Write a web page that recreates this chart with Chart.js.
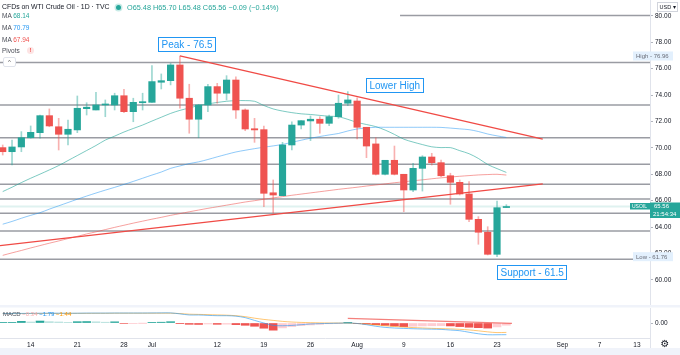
<!DOCTYPE html>
<html><head><meta charset="utf-8">
<script src="https://cdn.jsdelivr.net/npm/chart.js@4.4.0/dist/chart.umd.min.js"></script>
<style>
html,body{margin:0;padding:0;background:#fff;overflow:hidden}
#wrap{position:relative;width:680px;height:355px;font-family:'Liberation Sans',Arial,sans-serif}
canvas{position:absolute;left:0}
#c1{top:0}
#c2{top:305px}
.t{position:absolute;white-space:nowrap;line-height:1}
</style></head><body>
<div id="wrap">
<canvas id="c1" width="680" height="305"></canvas>
<canvas id="c2" width="680" height="50"></canvas>
<div class="t" style="left:2px;top:3.5px;font-size:6.9px;color:#131722">CFDs on WTI Crude Oil · 1D · TVC</div>
<div style="position:absolute;left:115.5px;top:4.5px;width:5px;height:5px;border-radius:50%;background:#26a69a;box-shadow:0 0 0 1.5px #c8ebe7"></div>
<div class="t" style="left:127px;top:3.5px;font-size:7.3px;color:#26a69a">O65.48 H65.70 L65.48 C65.56 −0.09 (−0.14%)</div>
<div class="t" style="left:2px;top:12.5px;font-size:6.5px;color:#4a4d57">MA <span style="color:#26a69a">68.14</span></div>
<div class="t" style="left:2px;top:25px;font-size:6.5px;color:#4a4d57">MA <span style="color:#2196f3">70.79</span></div>
<div class="t" style="left:2px;top:36.5px;font-size:6.5px;color:#4a4d57">MA <span style="color:#ef5350">67.94</span></div>
<div class="t" style="left:2px;top:47.5px;font-size:6.5px;color:#4a4d57">Pivots</div>
<div style="position:absolute;left:27px;top:46.5px;width:7px;height:7px;border-radius:50%;background:#fde4e4;color:#ef5350;font-size:6px;line-height:7px;text-align:center;font-weight:bold">!</div>
<div style="position:absolute;left:3px;top:57px;width:11px;height:8px;border:1px solid #e0e3eb;border-radius:2px;font-size:6px;line-height:8px;text-align:center;color:#555;background:#fff">^</div>
<div class="t" style="left:3px;top:311px;font-size:6px;color:#4a4d57">MACD <span style="color:#f7a9a8">−0.34</span> <span style="color:#2196f3">−1.79</span> <span style="color:#ff9800">−1.44</span></div>
</div>
<script>
// ---- data ----
const dates = ['Jun 9','Jun 10','Jun 11','Jun 14','Jun 15','Jun 16','Jun 17','Jun 18','Jun 21','Jun 22','Jun 23','Jun 24','Jun 25','Jun 28','Jun 29','Jun 30','Jul 1','Jul 2','Jul 5','Jul 6','Jul 7','Jul 8','Jul 9','Jul 12','Jul 13','Jul 14','Jul 15','Jul 16','Jul 19','Jul 20','Jul 21','Jul 22','Jul 23','Jul 26','Jul 27','Jul 28','Jul 29','Jul 30','Aug 2','Aug 3','Aug 4','Aug 5','Aug 6','Aug 9','Aug 10','Aug 11','Aug 12','Aug 13','Aug 16','Aug 17','Aug 18','Aug 19','Aug 20','Aug 23','Aug 24'];
const openP  = [70.02,69.71,70.07,70.77,71.15,72.44,71.60,71.03,71.36,72.97,72.87,73.25,73.25,73.95,72.74,73.42,73.45,74.97,75.09,76.28,73.76,72.17,73.25,74.64,74.14,75.14,72.87,71.45,71.38,66.60,66.38,70.22,71.73,72.04,72.17,71.86,72.36,73.38,73.55,71.56,70.30,68.00,69.06,68.00,66.81,68.45,69.31,68.88,67.89,67.39,66.51,64.59,63.61,61.94,65.48];
const highP  = [70.22,70.60,71.23,71.66,72.49,72.95,72.24,72.11,73.93,73.42,74.21,73.63,74.14,74.44,73.76,74.14,76.23,75.60,76.40,76.96,74.82,73.30,74.82,74.89,75.47,75.39,72.95,72.24,71.66,67.57,70.42,71.98,72.06,72.42,72.36,72.49,74.00,74.26,73.80,71.56,70.77,69.06,70.14,68.00,68.83,69.41,69.59,69.08,68.08,67.57,67.44,64.79,64.03,65.98,65.70];
const lowP   = [69.46,68.70,69.71,70.73,70.73,71.60,69.84,70.22,71.15,72.49,72.87,72.36,72.87,72.67,71.98,72.87,73.45,74.46,74.77,73.00,71.11,70.77,72.74,73.38,73.63,72.24,71.30,70.42,65.55,65.05,66.38,69.84,71.43,70.55,71.11,71.68,72.24,73.20,70.67,69.26,67.95,67.95,67.95,65.17,66.68,66.73,68.70,67.82,65.73,66.43,64.41,62.70,61.89,61.76,65.48];
const closeP = [69.71,70.07,70.77,71.18,72.44,71.66,71.03,71.41,73.00,73.08,73.25,73.30,73.95,72.74,73.45,73.50,75.02,75.09,76.28,73.76,72.17,73.25,74.64,74.14,75.14,72.87,71.43,71.36,66.56,66.43,70.22,71.73,72.06,72.17,71.86,72.36,73.38,73.63,71.56,70.14,68.00,69.06,68.00,66.81,68.45,69.31,68.88,67.89,67.39,66.51,64.59,63.61,61.94,65.47,65.56];
const maFast = [66.69,67.02,67.37,67.70,68.01,68.33,68.66,69.04,69.42,69.80,70.18,70.59,70.89,71.20,71.47,71.73,72.03,72.32,72.61,72.84,73.02,73.21,73.33,73.44,73.53,73.58,73.58,73.53,73.21,72.95,72.79,72.67,72.58,72.53,72.46,72.40,72.36,72.16,71.93,71.77,71.61,71.35,71.02,70.66,70.44,70.25,70.08,70.02,70.02,69.79,69.56,69.20,68.74,68.43,68.14];
const maMid  = [64.22,64.43,64.67,64.89,65.09,65.36,65.61,65.86,66.11,66.35,66.58,66.80,67.01,67.23,67.46,67.70,67.94,68.17,68.45,68.63,68.81,68.94,69.12,69.32,69.51,69.69,69.82,69.94,70.05,70.15,70.26,70.42,70.58,70.73,70.86,70.98,71.09,71.28,71.43,71.51,71.56,71.56,71.56,71.56,71.56,71.56,71.56,71.55,71.50,71.44,71.38,71.24,71.05,70.91,70.79];
const maSlow = [61.86,62.05,62.23,62.42,62.60,62.78,62.95,63.13,63.30,63.48,63.64,63.81,63.98,64.14,64.30,64.45,64.60,64.74,64.89,65.02,65.16,65.29,65.42,65.54,65.66,65.78,65.90,66.00,66.11,66.21,66.31,66.41,66.50,66.59,66.68,66.77,66.86,66.94,67.02,67.11,67.19,67.27,67.36,67.43,67.51,67.58,67.66,67.73,67.79,67.85,67.90,67.95,67.98,68.00,67.94];
const pivotLevels = [76.47,73.25,70.77,68.76,67.24,66.13,65.05,63.70,61.57];
const upperLevel = {value:80.02, from:42.6};
const lastPrice = 65.56;
const resistLine = [[19.0,76.96],[57.9,70.67]];
const supportLine = [[-0.29,62.59],[57.9,67.27]];
const macdLine   = [1.45,1.46,1.47,1.48,1.50,1.50,1.50,1.50,1.50,1.52,1.52,1.52,1.53,1.53,1.53,1.53,1.54,1.55,1.55,1.40,1.23,1.23,1.17,1.12,1.12,1.05,0.82,0.40,0.00,-0.37,-0.42,-0.37,-0.26,-0.15,-0.10,-0.06,-0.03,0.00,-0.07,-0.26,-0.50,-0.67,-0.77,-0.83,-0.88,-0.92,-0.95,-0.98,-1.08,-1.18,-1.42,-1.65,-1.80,-1.80,-1.79];
const signalLine = [1.45,1.45,1.45,1.46,1.46,1.47,1.47,1.47,1.48,1.48,1.49,1.49,1.50,1.50,1.50,1.50,1.50,1.50,1.50,1.45,1.35,1.32,1.28,1.24,1.20,1.12,0.97,0.74,0.55,0.40,0.25,0.15,0.09,0.05,0.02,0.00,0.00,-0.02,-0.08,-0.17,-0.30,-0.42,-0.53,-0.63,-0.70,-0.76,-0.82,-0.86,-0.90,-0.97,-1.06,-1.20,-1.36,-1.47,-1.44];
const histo = [0.10,0.10,0.25,0.15,0.30,0.20,0.15,0.10,0.20,0.22,0.18,0.12,0.18,-0.08,-0.05,-0.02,0.05,0.12,0.20,-0.05,-0.20,-0.22,-0.15,-0.20,-0.18,-0.25,-0.35,-0.50,-0.80,-1.10,-0.75,-0.55,-0.40,-0.30,-0.20,-0.12,-0.05,0.02,-0.08,-0.15,-0.25,-0.35,-0.45,-0.55,-0.50,-0.45,-0.42,-0.40,-0.45,-0.55,-0.65,-0.72,-0.78,-0.60,-0.34];
const macdTrend = [[37,0.70],[54.6,-0.05]];
const tickIdx = [3,8,13,16,23,28,33,38,43,48,53,60,64,68];
const tickLabels = ['14','21','28','Jul','12','19','26','Aug','9','16','23','Sep','7','13'];
const priceTicks = [60,62,64,66,68,70,72,74,76,78,80];
const notes = [
  {text:'Peak - 76.5', i:16.6, v:78.40},
  {text:'Lower High', i:38.9, v:75.30},
  {text:'Support - 61.5', i:53.0, v:61.13}
];

// ---- setup ----
const X_MIN = -0.29, X_MAX = 69.4;
const UP = '#26a69a', DOWN = '#ef5350';
Chart.defaults.font.family = "'Liberation Sans', Arial, sans-serif";
const idx = openP.map((_, i) => i);
const pts = arr => arr.map((v, i) => ({x: i, y: v}));
const isUp = i => closeP[i] >= openP[i];
const noPadY = s => { s.width = 30; s.paddingTop = 0; s.paddingBottom = 0; };

const datasets = [];
pivotLevels.forEach(lv => datasets.push({
  type:'line', data:[{x:X_MIN,y:lv},{x:X_MAX,y:lv}], borderColor:'#9a9ca3', borderWidth:1.5,
  pointRadius:0, order:20
}));
datasets.push({type:'line', data:[{x:upperLevel.from,y:upperLevel.value},{x:X_MAX,y:upperLevel.value}], borderColor:'#9a9ca3', borderWidth:1.5, pointRadius:0, order:20});
datasets.push({type:'line', data:[{x:X_MIN,y:lastPrice},{x:X_MAX,y:lastPrice}], borderColor:'rgba(38,166,154,0.15)', borderWidth:2, pointRadius:0, order:19});
datasets.push({type:'line', data:pts(maSlow), borderColor:'rgba(239,83,80,0.55)', borderWidth:1, pointRadius:0, tension:0.3, order:8});
datasets.push({type:'line', data:pts(maMid), borderColor:'rgba(33,150,243,0.5)', borderWidth:1, pointRadius:0, tension:0.3, order:8});
datasets.push({type:'line', data:pts(maFast), borderColor:'rgba(38,166,154,0.6)', borderWidth:1, pointRadius:0, tension:0.3, order:8});
datasets.push({type:'bar', data: idx.map(i => ({x:i, y:[lowP[i], highP[i]]})),
  backgroundColor: idx.map(i => isUp(i) ? 'rgba(38,166,154,0.45)' : 'rgba(239,83,80,0.45)'),
  barThickness:1, grouped:false, borderWidth:0, order:5});
datasets.push({type:'bar', data: idx.map(i => ({x:i, y:[Math.min(openP[i],closeP[i]), Math.max(openP[i],closeP[i])]})),
  backgroundColor: idx.map(i => isUp(i) ? UP : DOWN),
  barThickness:6.5, grouped:false, borderWidth:0, minBarLength:1, order:4});
[resistLine, supportLine].forEach(l => datasets.push({
  type:'line', data:l.map(p => ({x:p[0], y:p[1]})), borderColor:'#f04a45', borderWidth:1.3, pointRadius:0, order:1
}));

function tag(ctx, x, y, w, h, bg) { ctx.fillStyle = bg; ctx.fillRect(x, y, w, h); }

const pricePlugin = {
  id:'priceTags',
  afterDraw(chart) {
    const {ctx, scales:{x, y}} = chart;
    ctx.save();
    notes.forEach(n => {
      const px = Math.round(x.getPixelForValue(n.i)), py = Math.round(y.getPixelForValue(n.v));
      ctx.font = "10px 'Liberation Sans', Arial";
      const w = Math.round(ctx.measureText(n.text).width) + 6;
      ctx.fillStyle = '#fff'; ctx.fillRect(px, py, w, 14);
      ctx.strokeStyle = '#2196f3'; ctx.lineWidth = 1; ctx.strokeRect(px + 0.5, py + 0.5, w, 14);
      ctx.fillStyle = '#2196f3'; ctx.textBaseline = 'middle'; ctx.textAlign = 'left';
      ctx.fillText(n.text, px + 3.5, py + 7.8);
    });
    const hi = Math.max(...highP), lo = Math.min(...lowP);
    ctx.font = "6px 'Liberation Sans', Arial";
    [['High', hi], ['Low', lo]].forEach(([lab, v]) => {
      const py = y.getPixelForValue(v);
      tag(ctx, 633, py - 4.5, 40, 9, '#e3f0fd');
      ctx.fillStyle = '#6a6d78'; ctx.textBaseline = 'middle';
      ctx.fillText(lab + ' - ' + v.toFixed(2), 636, py + 0.3);
    });
    const pp = y.getPixelForValue(lastPrice);
    tag(ctx, 630, pp - 3.5, 20, 6.5, UP);
    tag(ctx, 650, pp - 4, 30, 15.5, UP);
    ctx.fillStyle = '#fff'; ctx.font = "5px 'Liberation Sans', Arial";
    ctx.fillText('USOIL', 632, pp);
    ctx.font = "6px 'Liberation Sans', Arial";
    ctx.fillText(lastPrice.toFixed(2), 654, pp);
    ctx.fillText('21:54:34', 653, pp + 7.5);
    ctx.strokeStyle = '#d1d4dc'; ctx.lineWidth = 1;
    ctx.strokeRect(657.5, 2.5, 20, 9);
    ctx.fillStyle = '#131722'; ctx.font = "5.5px 'Liberation Sans', Arial";
    ctx.fillText('USD ▾', 659.5, 7.3);
    ctx.restore();
  }
};

new Chart(document.getElementById('c1'), {
  type:'line',
  data:{datasets},
  options:{
    responsive:false, animation:false, maintainAspectRatio:false,
    layout:{padding:0},
    plugins:{legend:{display:false}, tooltip:{enabled:false}},
    scales:{
      x:{type:'linear', min:X_MIN, max:X_MAX, display:false, offset:false},
      y:{position:'right', min:58.1, max:81.2,
        afterFit: noPadY,
        afterBuildTicks(s){ s.ticks = priceTicks.map(v => ({value:v})); },
        ticks:{callback:v => Number(v).toFixed(2), font:{size:6.5}, color:'#131722', padding:2},
        grid:{drawOnChartArea:false, tickLength:3, color:'#b2b5be'},
        border:{color:'#e0e3eb'}
      }
    }
  },
  plugins:[pricePlugin]
});

// ---- MACD panel ----
const histColors = histo.map((v, i) => {
  const p = i > 0 ? histo[i-1] : v;
  if (v >= 0) return v >= p ? UP : '#b2dfdb';
  return v < p ? DOWN : '#ffcdd2';
});
const macdPlugin = {
  id:'macdBands',
  beforeDraw(chart) {
    const {ctx} = chart;
    ctx.save();
    ctx.fillStyle = '#f0f3fa';
    ctx.fillRect(0, 0, 680, 2.5);
    ctx.fillRect(0, 43, 680, 7);
    ctx.restore();
  },
  afterDraw(chart) {
    const {ctx} = chart;
    ctx.save();
    ctx.strokeStyle = '#e0e3eb'; ctx.lineWidth = 1;
    ctx.beginPath(); ctx.moveTo(650.5, 33); ctx.lineTo(650.5, 43); ctx.stroke();
    ctx.fillStyle = '#131722'; ctx.font = "10px 'DejaVu Sans'";
    ctx.textBaseline = 'middle'; ctx.textAlign = 'center';
    ctx.fillText('⚙', 665, 39);
    ctx.restore();
  }
};
new Chart(document.getElementById('c2'), {
  type:'line',
  data:{datasets:[
    {type:'line', data:pts(macdLine), borderColor:'rgba(33,150,243,0.6)', borderWidth:1, pointRadius:0, tension:0.3, order:2},
    {type:'line', data:pts(signalLine), borderColor:'rgba(255,152,0,0.55)', borderWidth:1, pointRadius:0, tension:0.3, order:2},
    {type:'line', data:macdTrend.map(p => ({x:p[0], y:p[1]})), borderColor:'rgba(240,74,69,0.7)', borderWidth:1.2, pointRadius:0, order:1},
    {type:'bar', data:pts(histo), backgroundColor:histColors, barThickness:8, grouped:false, borderWidth:0, order:3}
  ]},
  options:{
    responsive:false, animation:false, maintainAspectRatio:false,
    layout:{padding:{top:3, left:0, right:0, bottom:0}},
    plugins:{legend:{display:false}, tooltip:{enabled:false}},
    scales:{
      x:{type:'linear', min:X_MIN, max:X_MAX, position:'bottom', offset:false,
        afterFit(s){ s.height = 17; s.paddingLeft = 0; s.paddingRight = 0; },
        afterBuildTicks(s){ s.ticks = tickIdx.map(v => ({value:v})); },
        ticks:{autoSkip:false, maxRotation:0, font:{size:6.5}, color:'#131722', padding:3,
          callback:v => { const k = tickIdx.indexOf(v); return k >= 0 ? tickLabels[k] : ''; }},
        grid:{display:false, drawTicks:false, tickLength:0, offset:false},
        border:{color:'#e0e3eb'}
      },
      y:{position:'right', min:-2.3, max:2.3,
        afterFit: noPadY,
        afterBuildTicks(s){ s.ticks = [{value:0}]; },
        ticks:{callback:v => Number(v).toFixed(2), font:{size:6.5}, color:'#131722', padding:2},
        grid:{drawOnChartArea:false, tickLength:3, color:'#b2b5be'},
        border:{color:'#e0e3eb'}
      }
    }
  },
  plugins:[macdPlugin]
});
</script>
</body></html>
